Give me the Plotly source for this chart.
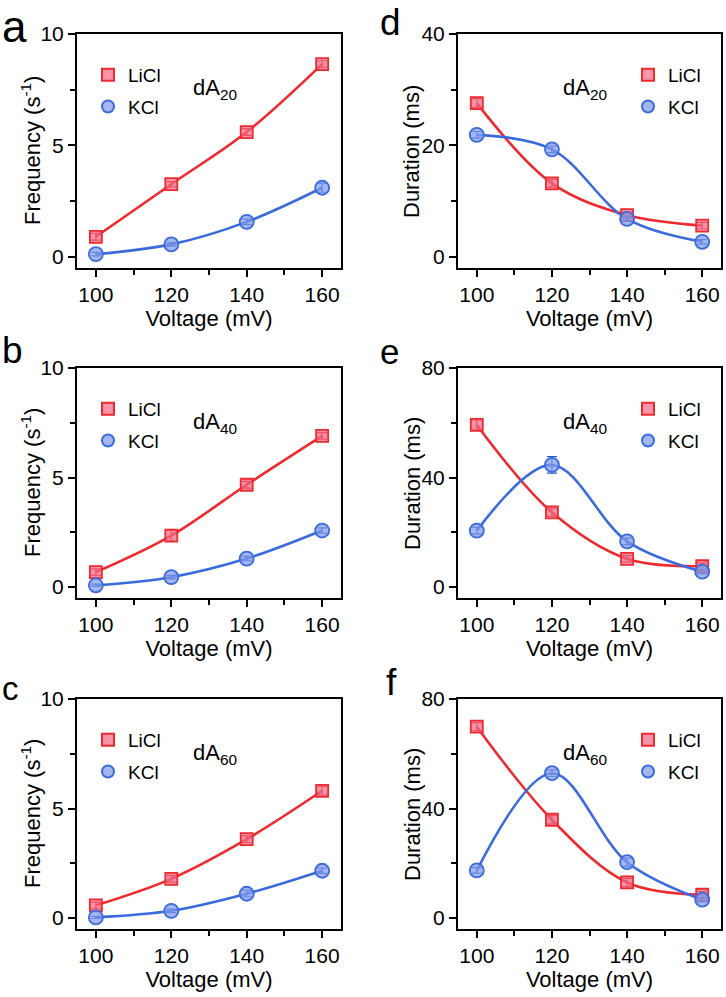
import plotly.graph_objects as go

# ---------------- data ----------------
voltage = [100, 120, 140, 160]

freq_dA20_LiCl = [0.90, 3.26, 5.60, 8.65]
freq_dA20_LiCl_err = [0.15, 0.12, 0.15, 0.15]
freq_dA20_KCl = [0.12, 0.56, 1.57, 3.10]
freq_dA20_KCl_err = [0.08, 0.08, 0.12, 0.20]

freq_dA40_LiCl = [0.68, 2.35, 4.67, 6.90]
freq_dA40_LiCl_err = [0.15, 0.25, 0.15, 0.15]
freq_dA40_KCl = [0.08, 0.45, 1.30, 2.58]
freq_dA40_KCl_err = [0.05, 0.08, 0.10, 0.12]

freq_dA60_LiCl = [0.58, 1.79, 3.60, 5.81]
freq_dA60_LiCl_err = [0.15, 0.15, 0.15, 0.20]
freq_dA60_KCl = [0.03, 0.33, 1.11, 2.16]
freq_dA60_KCl_err = [0.05, 0.08, 0.15, 0.12]

dur_dA20_LiCl = [27.6, 13.2, 7.5, 5.6]
dur_dA20_LiCl_err = [0.8, 0.7, 0.6, 0.6]
dur_dA20_KCl = [21.9, 19.3, 6.8, 2.7]
dur_dA20_KCl_err = [0.6, 0.6, 0.4, 0.4]

dur_dA40_LiCl = [59.2, 27.3, 10.3, 7.6]
dur_dA40_LiCl_err = [1.8, 1.5, 1.2, 1.2]
dur_dA40_KCl = [20.6, 44.6, 16.7, 5.6]
dur_dA40_KCl_err = [1.2, 3.0, 1.2, 0.8]

dur_dA60_LiCl = [69.9, 35.9, 13.0, 8.5]
dur_dA60_LiCl_err = [1.5, 1.5, 1.5, 1.2]
dur_dA60_KCl = [17.4, 52.9, 20.4, 6.7]
dur_dA60_KCl_err = [1.0, 1.2, 1.5, 0.8]

x_tick_vals = [100, 120, 140, 160]
freq_tick_vals = [0, 5, 10]
dur20_tick_vals = [0, 20, 40]
dur_tick_vals = [0, 40, 80]

panel_letters = ["a", "b", "c", "d", "e", "f"]
strand_labels = ["dA<sub>20</sub>", "dA<sub>40</sub>", "dA<sub>60</sub>",
                 "dA<sub>20</sub>", "dA<sub>40</sub>", "dA<sub>60</sub>"]
freq_title = "Frequency (s<sup>-1</sup>)"
dur_title = "Duration (ms)"
volt_title = "Voltage (mV)"

# ---------------- style ----------------
W, H = 726, 997
FONT = "Liberation Sans, Arial, sans-serif"
RED_LINE = "#EE2A2E"
RED_FILL = "rgba(245,105,135,0.72)"
BLUE_LINE = "#3A6BDD"
BLUE_FILL = "rgba(130,155,235,0.72)"

# pixel boxes of the six plot frames (left, right, top, bottom)
left_cols = (77, 341)
right_cols = (458, 721)
rows = [(34, 268), (368, 598), (699, 929)]

letter_sizes = [44, 37, 33, 37, 35, 37]
letter_tops = [0, 328, 668, 0, 330, 660]   # pixel top of letter boxes
letter_lefts = [0, 0, 0, 378, 378, 384]


def xdom(c):
    return [c[0] / W, c[1] / W]


def ydom(r):
    return [1 - r[1] / H, 1 - r[0] / H]


panels = [
    (left_cols, rows[0], freq_dA20_LiCl, freq_dA20_LiCl_err, freq_dA20_KCl, freq_dA20_KCl_err,
     [-0.5, 10], freq_tick_vals, 2.5, freq_title),
    (left_cols, rows[1], freq_dA40_LiCl, freq_dA40_LiCl_err, freq_dA40_KCl, freq_dA40_KCl_err,
     [-0.5, 10], freq_tick_vals, 2.5, freq_title),
    (left_cols, rows[2], freq_dA60_LiCl, freq_dA60_LiCl_err, freq_dA60_KCl, freq_dA60_KCl_err,
     [-0.5, 10], freq_tick_vals, 2.5, freq_title),
    (right_cols, rows[0], dur_dA20_LiCl, dur_dA20_LiCl_err, dur_dA20_KCl, dur_dA20_KCl_err,
     [-2, 40], dur20_tick_vals, 10, dur_title),
    (right_cols, rows[1], dur_dA40_LiCl, dur_dA40_LiCl_err, dur_dA40_KCl, dur_dA40_KCl_err,
     [-4, 80], dur_tick_vals, 20, dur_title),
    (right_cols, rows[2], dur_dA60_LiCl, dur_dA60_LiCl_err, dur_dA60_KCl, dur_dA60_KCl_err,
     [-4, 80], dur_tick_vals, 20, dur_title),
]

fig = go.Figure()
layout = dict(
    width=W, height=H,
    margin=dict(l=0, r=0, t=0, b=0, pad=0, autoexpand=False),
    paper_bgcolor="white", plot_bgcolor="white",
    font=dict(family=FONT, color="black"),
    annotations=[],
)

for i, (col, row, li, li_e, k, k_e, yr, yt, ymin, ytitle) in enumerate(panels):
    n = i + 1
    xa = "x" if n == 1 else f"x{n}"
    ya = "y" if n == 1 else f"y{n}"
    lg = "legend" if n == 1 else f"legend{n}"

    # fitted curves
    fig.add_trace(go.Scatter(x=voltage, y=li, mode="lines", xaxis=xa, yaxis=ya,
                             line=dict(color=RED_LINE, width=2.6, shape="spline", smoothing=1.0),
                             showlegend=False, hoverinfo="skip"))
    fig.add_trace(go.Scatter(x=voltage, y=k, mode="lines", xaxis=xa, yaxis=ya,
                             line=dict(color=BLUE_LINE, width=2.6, shape="spline", smoothing=1.0),
                             showlegend=False, hoverinfo="skip"))
    # data points
    fig.add_trace(go.Scatter(x=voltage, y=li, mode="markers", xaxis=xa, yaxis=ya,
                             name="LiCl", legend=lg, legendgroup=f"li{n}",
                             marker=dict(symbol="square", size=12, color=RED_FILL,
                                         line=dict(color=RED_LINE, width=1.8)),
                             error_y=dict(type="data", array=li_e, color="#D0202A",
                                          thickness=1.2, width=5)))
    fig.add_trace(go.Scatter(x=voltage, y=k, mode="markers", xaxis=xa, yaxis=ya,
                             name="KCl", legend=lg, legendgroup=f"k{n}",
                             marker=dict(symbol="circle", size=14, color=BLUE_FILL,
                                         line=dict(color=BLUE_LINE, width=1.8)),
                             error_y=dict(type="data", array=k_e, color="#2A55C0",
                                          thickness=1.2, width=5)))

    axis_common = dict(showline=True, linecolor="black", linewidth=2, mirror=True,
                       showgrid=False, zeroline=False, ticks="outside", ticklen=7,
                       tickwidth=1.8, tickcolor="black", automargin=False,
                       tickfont=dict(family=FONT, size=21, color="black"))
    layout[xa.replace("x", "xaxis")] = dict(
        axis_common, domain=xdom(col), anchor=ya, range=[95, 165],
        tickvals=x_tick_vals,
        minor=dict(dtick=10, tick0=100, ticks="outside", ticklen=5, tickwidth=1.8,
                   tickcolor="black"),
        title=dict(text=volt_title, font=dict(family=FONT, size=22), standoff=4),
    )
    layout[ya.replace("y", "yaxis")] = dict(
        axis_common, domain=ydom(row), anchor=xa, range=yr,
        tickvals=yt,
        minor=dict(dtick=ymin, tick0=0, ticks="outside", ticklen=5, tickwidth=1.8,
                   tickcolor="black"),
    )

    # y-axis title (as rotated text, centred 46 px left of the frame)
    layout["annotations"].append(dict(
        text=ytitle, xref="paper", yref="paper", x=(col[0] - 46) / W,
        y=1 - (row[0] + row[1]) / 2 / H, xanchor="center", yanchor="middle",
        textangle=-90, showarrow=False, font=dict(family=FONT, size=22, color="black")))

    # legend
    if col == left_cols:
        lx = (col[0] + 11) / W
    else:
        lx = (col[0] + 170) / W
    layout[lg] = dict(x=lx, y=1 - (row[0] + 22) / H, xanchor="left", yanchor="top",
                      bgcolor="rgba(0,0,0,0)", borderwidth=0,
                      font=dict(family=FONT, size=19, color="black"),
                      traceorder="grouped", tracegroupgap=4, itemsizing="constant")

    # strand label
    if col == left_cols:
        sx = (col[0] + 114) / W
    else:
        sx = (col[0] + 103) / W
    layout["annotations"].append(dict(
        text=strand_labels[i], xref="paper", yref="paper", x=sx,
        y=1 - (row[0] + 55) / H, xanchor="left", yanchor="middle", showarrow=False,
        font=dict(family=FONT, size=22, color="black")))

    # panel letter
    layout["annotations"].append(dict(
        text=panel_letters[i], xref="paper", yref="paper", x=letter_lefts[i] / W,
        y=1 - letter_tops[i] / H, xanchor="left", yanchor="top", showarrow=False,
        font=dict(family=FONT, size=letter_sizes[i], color="black")))

fig.update_layout(**layout)
fig.write_html("out.html", config={"displayModeBar": False},
               post_script="document.body.style.margin='0px';document.body.style.overflow='hidden';")
